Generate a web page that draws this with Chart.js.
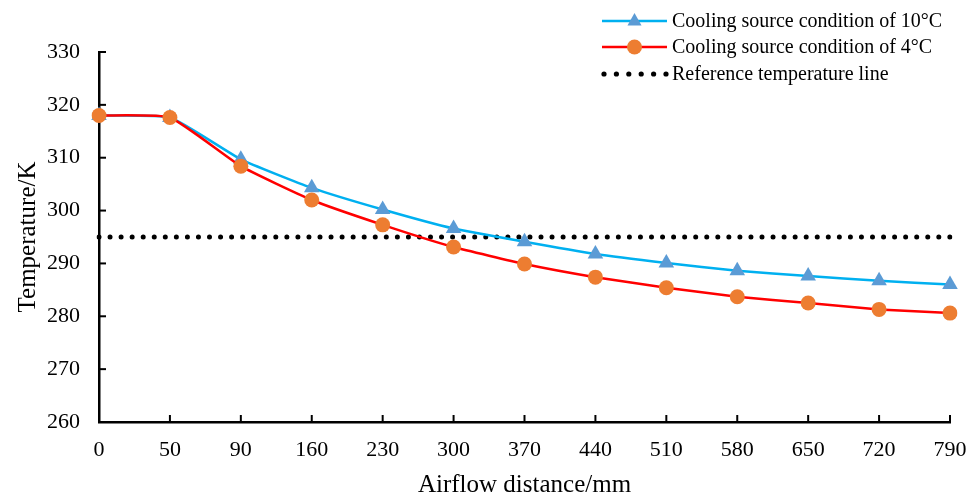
<!DOCTYPE html>
<html>
<head>
<meta charset="utf-8">
<script src="https://cdn.jsdelivr.net/npm/chart.js@4.4.1/dist/chart.umd.min.js"></script>
<style>
  html, body { margin: 0; padding: 0; background: #fff; }
  #wrap { width: 974px; height: 498px; position: relative; }
</style>
</head>
<body>
<div id="wrap"><canvas id="tempChart"></canvas></div>
<script>
// Data
const distances = ['0', '50', '90', '160', '230', '300', '370', '440', '510', '580', '650', '720', '790'];
const temp10C = [318.0, 317.6, 309.7, 304.3, 300.2, 296.6, 294.1, 291.8, 290.1, 288.6, 287.6, 286.7, 286.0];
const temp4C = [318.0, 317.6, 308.4, 302.0, 297.3, 293.1, 289.9, 287.4, 285.4, 283.7, 282.5, 281.3, 280.6];
const referenceTemp = [295, 295, 295, 295, 295, 295, 295, 295, 295, 295, 295, 295, 295];
const yTicks = [260, 270, 280, 290, 300, 310, 320, 330];

const serif = "'Liberation Serif', 'Times New Roman', serif";

// inward tick marks, like the Excel original
const innerTicks = {
    id: 'innerTicks',
    afterDatasetsDraw(chart) {
        const ctx = chart.ctx;
        const x = chart.scales.x, y = chart.scales.y;
        ctx.save();
        ctx.strokeStyle = '#000';
        ctx.lineWidth = 2;
        x.ticks.forEach((t, i) => {
            const px = x.getPixelForTick(i);
            ctx.beginPath();
            ctx.moveTo(px, y.bottom);
            ctx.lineTo(px, y.bottom - 7);
            ctx.stroke();
        });
        y.ticks.forEach((t, i) => {
            const py = y.getPixelForTick(i);
            ctx.beginPath();
            ctx.moveTo(x.left, py);
            ctx.lineTo(x.left + 7, py);
            ctx.stroke();
        });
        ctx.restore();
    }
};

// Excel style legend in the top right corner
const cornerLegend = {
    id: 'cornerLegend',
    afterDraw(chart) {
        const ctx = chart.ctx;
        const x0 = 602, x1 = 667, tx = 672;
        const rows = [21, 47, 74];
        ctx.save();
        ctx.font = '20px ' + serif;
        ctx.textBaseline = 'middle';
        chart.data.datasets.forEach((ds, i) => {
            const yy = rows[i];
            if (ds.borderDash && ds.borderDash.length) {
                ctx.fillStyle = '#000';
                for (let k = 0; k < 6; k++) {
                    ctx.beginPath();
                    ctx.arc(x0 + 2 + k * 12.4, yy, 2.6, 0, Math.PI * 2);
                    ctx.fill();
                }
            } else {
                ctx.strokeStyle = ds.borderColor;
                ctx.lineWidth = 2.5;
                ctx.beginPath();
                ctx.moveTo(x0, yy);
                ctx.lineTo(x1, yy);
                ctx.stroke();
                ctx.fillStyle = ds.pointBackgroundColor;
                const mx = (x0 + x1) / 2;
                ctx.beginPath();
                if (ds.pointStyle === 'triangle') {
                    ctx.moveTo(mx, yy - 8);
                    ctx.lineTo(mx + 7, yy + 4.5);
                    ctx.lineTo(mx - 7, yy + 4.5);
                    ctx.closePath();
                } else {
                    ctx.arc(mx, yy, 7.5, 0, Math.PI * 2);
                }
                ctx.fill();
            }
            ctx.fillStyle = '#000';
            ctx.fillText(ds.label, tx, yy + 1);
        });
        ctx.restore();
    }
};

new Chart(document.getElementById('tempChart'), {
    type: 'line',
    data: {
        labels: distances,
        datasets: [{
            label: 'Cooling source condition of 10\u00B0C',
            data: temp10C,
            borderColor: '#00B0F0',
            borderWidth: 2.5,
            pointStyle: 'triangle',
            pointRadius: 9,
            pointBackgroundColor: '#5B9BD5',
            pointBorderColor: '#5B9BD5',
            pointBorderWidth: 0,
            tension: 0.15,
            order: 1,
        }, {
            label: 'Cooling source condition of 4\u00B0C',
            data: temp4C,
            borderColor: '#FF0000',
            borderWidth: 2.5,
            pointStyle: 'circle',
            pointRadius: 7.5,
            pointBackgroundColor: '#ED7D31',
            pointBorderColor: '#ED7D31',
            pointBorderWidth: 0,
            tension: 0.15,
            order: 0,
        }, {
            label: 'Reference temperature line',
            data: referenceTemp,
            borderColor: '#000',
            borderWidth: 5,
            borderDash: [0, 11.05],
            borderCapStyle: 'round',
            pointRadius: 0,
            order: 2,
        }],
    },
    options: {
        responsive: true,
        maintainAspectRatio: false,
        animation: false,
        layout: { padding: { top: 52, right: 24, bottom: 0, left: 0 } },
        plugins: {
            legend: { display: false },
            tooltip: { enabled: false },
        },
        scales: {
            x: {
                type: 'category',
                offset: false,
                grid: { display: false, drawTicks: false },
                border: { display: true, color: '#000', width: 2.5 },
                ticks: { color: '#000', font: { family: serif, size: 22 }, padding: 15, maxRotation: 0, autoSkip: false },
                title: { display: true, text: 'Airflow distance/mm', color: '#000', font: { family: serif, size: 25, lineHeight: 1.0 }, padding: 0 },
                afterFit(scale) { scale.height = 76; scale.paddingRight = 0; scale.paddingLeft = 0; },
            },
            y: {
                min: 260,
                max: 330,
                afterBuildTicks(scale) { scale.ticks = yTicks.map(v => ({ value: v })); },
                grid: { display: false, drawTicks: false },
                border: { display: true, color: '#000', width: 2.5 },
                ticks: { color: '#000', font: { family: serif, size: 22 }, padding: 19 },
                title: { display: true, text: 'Temperature/K', color: '#000', font: { family: serif, size: 25 }, padding: { top: 13, bottom: 0 } },
                afterFit(scale) { scale.width = 99; scale.paddingTop = 0; scale.paddingBottom = 0; },
            },
        },
    },
    plugins: [innerTicks, cornerLegend],
});
</script>
</body>
</html>
